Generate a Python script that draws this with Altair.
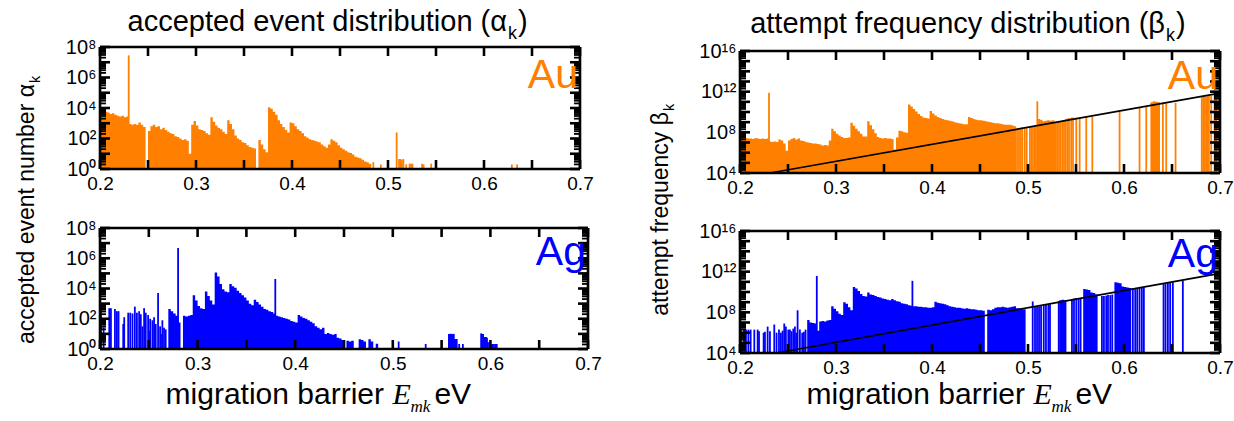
import altair as alt
import pandas as pd

# ---------------- data (log10 of the plotted values) ----------------
STEP = 0.0025  # histogram bin width (eV)

# accepted event number alpha_k, Au (bins of 0.0025 eV from AU_ALPHA_START)
AU_ALPHA_START = 0.2
AU_ALPHA_LOG = [
    3.9, 3.85, 3.75, 3.7, 3.6, 3.65, 3.55, 3.5, 3.45, 3.5, 3.4, 3.45,
    2.95, 2.9, 2.95, 2.9, 3.05, 2.9, 2.75, None, 2.5, 2.8, 2.9, 2.75,
    2.8, 2.6, 2.7, 2.55, 2.45, 2.35, 2.3, 2.15, 2.1, 2.0, 1.9, 1.95,
    1.85, 1.0, 2.9, 3.15, 2.85, 2.6, 2.55, 2.5, 2.35, 2.25, 3.4, 3.1,
    2.85, 2.7, 2.6, 2.45, 2.3, 3.2, 2.95, 2.6, 2.2, 2.0, 1.9, 1.75,
    1.7, 1.55, 1.45, 1.4, 1.35, None, 1.9, 1.6, 1.3, 1.1, 4.05, 3.95,
    3.75, 3.55, 3.2, 2.95, 2.75, 2.55, 2.4, 3.05, 3.0, 2.8, 2.6, 2.5,
    2.35, 2.15, 2.05, 1.95, 1.9, 1.85, 1.8, 1.75, 1.6, 1.5, 1.4, 1.6,
    1.95, 1.85, 1.75, 1.55, 1.4, 1.3, 1.2, 1.1, 1.05, 0.95, 0.8, 0.75,
    0.7, 0.6, 0.5, 0.45, 0.35,
]
AU_ALPHA_LINE_E = [0.2299, 0.4847, 0.4925, 0.509, 0.5115, 0.513, 0.5145, 0.516,
                   0.519, 0.5225, 0.524, 0.5255, 0.5355, 0.537, 0.545, 0.629, 0.6345]
AU_ALPHA_LINE_LOG = [7.45, 0.45, 0.3, 2.4, 0.65, 0.65, 0.6, 0.65,
                     0.3, 0.35, 0.35, 0.35, 0.35, 0.3, 0.35, 0.3, 0.3]

# accepted event number alpha_k, Ag
AG_ALPHA_START = 0.27
AG_ALPHA_LOG = [
    2.65, 2.5, 2.35, 2.2, 1.75, None, 2.2, 2.15, 2.2, 2.25, 3.55, 3.2,
    2.85, 2.7, 2.65, 3.8, 3.5, 3.2, 2.95, 5.05, 4.8, 4.3, 3.95, 3.8,
    3.75, 4.3, 4.15, 4.05, 3.85, 3.7, 3.55, 3.4, 3.2, 3.0, 2.9, 3.25,
    3.1, 2.95, 2.8, 2.65, 2.6, 2.5, 2.45, 2.35, 2.2, 2.15, 2.1, 2.05,
    2.0, 1.95, 1.85, 1.8, 1.75, 2.25, 2.15, 2.05, 2.0, 1.9, 1.8, 1.7,
    1.5, 1.4, 1.3, 1.4, 1.0, 1.05, 1.0, 0.95, 1.0, 0.75, 0.7, 0.6,
    None, 0.55, 0.5, 0.55, None, None, 0.65, 0.6, 0.5, None, 0.65, 0.5,
    None, 0.35,
]
AG_ALPHA_LINE_E = [0.201, 0.2037, 0.2095, 0.2112, 0.2153, 0.2173, 0.219, 0.2238, 0.2248,
                   0.2289, 0.231, 0.2333, 0.2357, 0.2378, 0.2401, 0.2418, 0.2435, 0.2452,
                   0.2469, 0.2493, 0.2503, 0.2514, 0.2537, 0.2554, 0.256, 0.2571, 0.2595,
                   0.2616, 0.2625, 0.2639, 0.2656, 0.2673, 0.28, 0.3796, 0.506, 0.5337,
                   0.5575, 0.5585, 0.5595, 0.5605, 0.5615, 0.5625, 0.5635, 0.5645, 0.5655,
                   0.568, 0.5718, 0.5905, 0.5915, 0.5925, 0.5935, 0.5945, 0.5955, 0.5965,
                   0.5975, 0.599, 0.6005, 0.602, 0.6035, 0.605, 0.6065]
AG_ALPHA_LINE_LOG = [2.97, 1.43, 2.7, 2.7, 2.64, 2.5, 2.5, 1.65, 2.1,
                     2.4, 2.4, 2.35, 2.8, 2.4, 2.5, 2.3, 1.5, 2.7,
                     2.4, 2.25, 1.2, 2.0, 1.9, 2.1, 1.6, 1.65, 3.7,
                     1.5, 1.0, 1.9, 1.4, 1.3, 6.67, 4.63, 0.5, 0.33,
                     1.0, 1.0, 1.0, 1.0, 0.95, 1.0, 0.66, 0.66, 0.66,
                     0.33, 0.33, 1.03, 1.0, 1.0, 0.8, 0.8, 0.8, 0.75,
                     0.44, 0.44, 0.33, 0.33, 0.33, 0.33, 0.33]

# attempt frequency beta_k, Au
AU_BETA_START = 0.2
AU_BETA_LOG = [
    7.6, 7.55, 7.45, 7.4, 7.4, 7.35, 7.45, 7.4, 7.35, 7.4, 7.35, 7.4,
    7.1, 7.05, 7.1, 7.05, 7.3, 7.2, 6.9, 6.2, 7.2, 7.35, 7.45, 7.3,
    7.4, 7.2, 7.15, 7.05, 7.0, 6.95, 6.9, 6.9, 6.85, 6.8, 6.7, 6.75,
    6.7, 7.2, 8.35, 8.1, 7.85, 7.7, 7.55, 7.45, 7.45, 7.5, 8.95, 8.65,
    8.35, 8.1, 7.85, 7.6, 7.6, 9.1, 8.7, 8.3, 7.9, 7.55, 7.45, 7.4,
    7.45, 7.4, 7.4, 7.35, 6.3, 7.5, 8.15, 8.1, 8.0, 7.95, 10.75, 10.55,
    10.3, 10.05, 9.8, 9.6, 9.45, 9.4, 9.35, 10.1, 9.85, 9.65, 9.5, 9.4,
    9.3, 9.25, 9.2, 9.15, 9.1, 9.0, 8.95, 8.9, 8.85, 8.8, 8.8, 9.5,
    9.4, 9.3, 9.25, 9.2, 9.2, 9.15, 9.1, 9.05, 9.0, 8.95, 8.9, 8.9,
    8.85, 8.8, 8.75, 8.75, 8.75, 8.7, 8.6,
]
AU_BETA_BIN_E = [0.51, 0.5125, 0.515, 0.5175, 0.52, 0.5225, 0.525, 0.5275,
                 0.6275, 0.63, 0.6325, 0.635]
AU_BETA_BIN_LOG = [9.3, 9.25, 9.1, 9.15, 9.2, 9.15, 9.2, 9.0,
                   10.95, 11.05, 11.0, 10.95]
AU_BETA_LINE_E = [0.2302, 0.4868, 0.4886, 0.4906, 0.4924, 0.4941, 0.4966, 0.4986, 0.502,
                  0.5035, 0.5052, 0.507, 0.5083, 0.5097, 0.5305, 0.5323, 0.534, 0.5358,
                  0.5375, 0.5392, 0.541, 0.5427, 0.545, 0.5469, 0.5503, 0.5538, 0.5607,
                  0.567, 0.5954, 0.6162, 0.6232, 0.6405, 0.644, 0.6537, 0.681, 0.6825,
                  0.684, 0.6855, 0.687, 0.6885, 0.6908, 0.6943, 0.696]
AU_BETA_LINE_LOG = [11.9, 8.5, 8.4, 8.4, 8.45, 8.5, 8.4, 8.5, 8.55,
                    8.6, 8.6, 8.6, 8.6, 11.05, 9.0, 9.05, 9.1, 9.15,
                    9.2, 9.3, 9.35, 9.4, 9.45, 9.45, 9.45, 9.5, 9.5,
                    9.55, 10.05, 10.4, 10.5, 10.85, 10.85, 10.9, 11.5, 11.55,
                    11.55, 11.5, 11.6, 11.6, 11.6, 11.65, 11.7]
AU_FIT_E = [0.2312, 0.7]
AU_FIT_LOG = [4.0, 11.85]

# attempt frequency beta_k, Ag
AG_BETA_START = 0.27
AG_BETA_LOG = [
    7.25, 7.0, 6.95, 6.9, 6.2, 7.1, 7.15, 7.1, 7.2, 7.25, 8.6, 8.35,
    8.1, 7.85, 7.75, 9.0, 8.85, 8.5, 8.2, 10.5, 10.35, 10.1, 9.8, 9.6,
    9.55, 9.95, 9.75, 9.7, 9.6, 9.5, 9.45, 9.35, 9.3, 9.25, 9.2, 9.3,
    9.2, 9.1, 9.05, 8.9, 8.85, 8.8, 8.7, 8.65, 8.6, 8.6, 8.55, 8.55,
    8.5, 8.5, 8.45, 8.45, 8.5, 9.05, 8.95, 8.9, 8.85, 8.8, 8.7, 8.6,
    8.55, 8.5, 8.45, 8.45, 8.4, 8.35, 8.4, 8.35, 8.3, 8.3, 8.25, 8.2,
    8.2, 8.15, None, 8.25, 8.2, 8.3, 8.45, 8.5, 8.5, 8.55, 8.5, 8.45,
    8.5, 8.55, 8.6, 8.4, 8.4, 8.3, 8.3,
]
AG_BETA_BIN_E = [0.5325, 0.535, 0.5375, 0.5575, 0.56, 0.5625, 0.565, 0.5675, 0.57,
                 0.59, 0.5925, 0.595, 0.5975, 0.6, 0.6025, 0.605]
AG_BETA_BIN_LOG = [9.2, 9.25, 9.2, 10.3, 10.25, 10.2, 9.95, 9.9, 9.75,
                   10.95, 10.9, 10.85, 10.55, 10.5, 10.45, 10.4]
AG_BETA_LINE_E = [0.2009, 0.2024, 0.2042, 0.2062, 0.2087, 0.2111, 0.2149, 0.2184, 0.2198,
                  0.2246, 0.226, 0.2288, 0.2312, 0.2357, 0.2381, 0.2406, 0.2426, 0.2444,
                  0.2461, 0.2478, 0.2503, 0.252, 0.2537, 0.2555, 0.2572, 0.2586, 0.26,
                  0.2624, 0.2648, 0.2666, 0.2683, 0.28, 0.3796, 0.5049, 0.5073, 0.5094,
                  0.5115, 0.5136, 0.5164, 0.5187, 0.5212, 0.5229, 0.532, 0.5458, 0.5479,
                  0.5503, 0.5527, 0.5548, 0.577, 0.5791, 0.5815, 0.5833, 0.5857, 0.5878,
                  0.6092, 0.6117, 0.6138, 0.6162, 0.6186, 0.6207, 0.6412, 0.6433, 0.6457,
                  0.6481, 0.6509, 0.6613]
AG_BETA_LINE_LOG = [6.3, 5.0, 6.3, 6.3, 6.3, 6.3, 6.3, 6.3, 6.15,
                    6.0, 6.1, 6.6, 6.15, 6.8, 6.0, 6.3, 6.0, 6.2,
                    6.9, 6.6, 6.3, 6.3, 6.15, 6.4, 6.6, 6.0, 8.2,
                    6.3, 6.0, 6.1, 6.3, 11.58, 11.1, 9.07, 8.6, 8.6,
                    8.6, 8.65, 8.7, 8.75, 8.8, 8.8, 9.1, 9.3, 9.35,
                    9.4, 9.4, 9.35, 9.6, 9.6, 9.65, 9.7, 9.7, 9.75,
                    10.35, 10.35, 10.35, 10.4, 10.4, 10.45, 10.85, 10.85, 10.9,
                    10.9, 10.95, 11.1]
AG_FIT_E = [0.2382, 0.7]
AG_FIT_LOG = [4.0, 11.84]

# axis ticks
X_TICKS = [0.2, 0.25, 0.3, 0.35, 0.4, 0.45, 0.5, 0.55, 0.6, 0.65, 0.7]
ALPHA_DECADES = [0, 1, 2, 3, 4, 5, 6, 7, 8]
BETA_DECADES = [4, 5, 6, 7, 8, 9, 10, 11, 12, 13, 14, 15, 16]

# ---------------- styling / layout ----------------
W, H = 1234, 421
ORANGE = "#ff8000"
BLUE = "#0000ff"
SANS = "Liberation Sans, Arial, Helvetica, sans-serif"
SERIF = "Liberation Serif, Times New Roman, serif"
SUP = {"0": "\u2070", "1": "\u00b9", "2": "\u00b2", "3": "\u00b3", "4": "\u2074",
       "5": "\u2075", "6": "\u2076", "7": "\u2077", "8": "\u2078", "9": "\u2079"}


def sup(n):
    return "".join(SUP[c] for c in str(n))


def step_rows(start, logs, bin_e, bin_log, base):
    """histogram outline points for a step-after area: one point per bin left edge"""
    vals = {}
    for i, v in enumerate(logs):
        if v is not None:
            vals[round(start / STEP) + i] = v
    for e, v in zip(bin_e, bin_log):
        vals[round(e / STEP)] = v
    lo, hi = min(vals), max(vals)
    rows = []
    for k in range(lo, hi + 2):
        v = vals.get(k)
        rows.append({"x": round(k * STEP, 5), "v": 10 ** v if v is not None else base, "base": base})
    return pd.DataFrame(rows)


def line_rows(es, logs, base):
    return pd.DataFrame([{"e": e, "v": 10 ** v, "base": base} for e, v in zip(es, logs)])


def label_expr(labeled):
    expr = "''"
    for d in labeled:
        expr = f"(round(log(datum.value)/LN10)=={d}) ? '10{sup(d)}' : " + expr
    return expr


def panel(L, R, B, T, dmin_exp, dmax_exp, decades, labeled, color,
          start, logs, bin_e, bin_log, line_e, line_log, fit_e=None, fit_log=None,
          tag="", tag_dy=36):
    dmin, dmax = 10 ** dmin_exp, 10 ** dmax_exp
    xs = alt.Scale(domain=[0.2, 0.7], range=[L, R], nice=False, zero=False)
    ys = alt.Scale(type="log", domain=[dmin, dmax], range=[B, T], nice=False)
    common = dict(grid=False, domain=False, ticks=False, title=None, labelFont=SANS,
                  labelColor="black", labelFlush=False, labelOverlap=False, labelBound=False)
    majors = [10 ** d for d in decades]
    minors = [m * 10 ** d for d in decades[:-1] for m in range(2, 10)]

    ax_bottom = alt.Axis(orient="bottom", values=X_TICKS, offset=B - H, labelFontSize=19, labelPadding=5,
                         labelExpr="abs(datum.value*10 - round(datum.value*10)) < 0.01 ? format(datum.value, '.1f') : ''",
                         **common)
    ay_left = alt.Axis(orient="left", values=majors, offset=-L, labelFontSize=20, labelPadding=4,
                       labelExpr=label_expr(labeled), **common)

    area = step_rows(start, logs, bin_e, bin_log, dmin)
    lines = line_rows(line_e, line_log, dmin)
    frame = pd.DataFrame([{"x0": 0.2, "x1": 0.7, "y0": dmin, "y1": dmax}])
    xt = pd.DataFrame({"x": X_TICKS})
    yt_major = pd.DataFrame({"y": majors})
    yt_minor = pd.DataFrame({"y": minors})

    def X(f):
        return alt.X(f, scale=xs, axis=None)

    def Y(f):
        return alt.Y(f, scale=ys, axis=None)

    fw = 2.6
    layers = [
        alt.Chart(area).mark_area(color=color, interpolate="step-after", opacity=1).encode(
            x=alt.X("x:Q", scale=xs, axis=ax_bottom),
            y=alt.Y("v:Q", scale=ys, axis=ay_left), y2="base:Q"),
        alt.Chart(lines).mark_rule(color=color, strokeWidth=1.8).encode(
            x=X("e:Q"), y=Y("v:Q"), y2="base:Q"),
    ]
    if fit_e is not None:
        fit = pd.DataFrame({"e": fit_e, "v": [10 ** v for v in fit_log]})
        layers.append(alt.Chart(fit).mark_line(color="black", strokeWidth=1.7).encode(
            x=X("e:Q"), y=Y("v:Q")))
    layers += [
        # frame
        alt.Chart(frame).mark_rule(color="black", strokeWidth=fw).encode(x=X("x0:Q"), x2="x1:Q", y=Y("y0:Q")),
        alt.Chart(frame).mark_rule(color="black", strokeWidth=fw).encode(x=X("x0:Q"), x2="x1:Q", y=Y("y1:Q")),
        alt.Chart(frame).mark_rule(color="black", strokeWidth=fw).encode(x=X("x0:Q"), y=Y("y0:Q"), y2="y1:Q"),
        alt.Chart(frame).mark_rule(color="black", strokeWidth=fw).encode(x=X("x1:Q"), y=Y("y0:Q"), y2="y1:Q"),
        # inward ticks on all four sides
        alt.Chart(xt).mark_tick(color="black", orient="vertical", size=9, thickness=2.6, opacity=1).encode(
            x=X("x:Q"), y=alt.value(B - 4.5)),
        alt.Chart(xt).mark_tick(color="black", orient="vertical", size=9, thickness=2.6, opacity=1).encode(
            x=X("x:Q"), y=alt.value(T + 4.5)),
        alt.Chart(yt_major).mark_tick(color="black", orient="horizontal", size=10, thickness=2.6, opacity=1).encode(
            y=Y("y:Q"), x=alt.value(L + 5)),
        alt.Chart(yt_major).mark_tick(color="black", orient="horizontal", size=10, thickness=2.6, opacity=1).encode(
            y=Y("y:Q"), x=alt.value(R - 5)),
        alt.Chart(yt_minor).mark_tick(color="black", orient="horizontal", size=6, thickness=1.8, opacity=1).encode(
            y=Y("y:Q"), x=alt.value(L + 3)),
        alt.Chart(yt_minor).mark_tick(color="black", orient="horizontal", size=6, thickness=1.8, opacity=1).encode(
            y=Y("y:Q"), x=alt.value(R - 3)),
        alt.Chart(pd.DataFrame({"t": [tag]})).mark_text(
            color=color, font=SANS, fontSize=41, align="right", baseline="alphabetic").encode(
            text="t:N", x=alt.value(R - 2), y=alt.value(T + tag_dy)),
    ]
    return layers


def text(t, x, y, size, font=SANS, align="left", angle=0, dx=0, dy=0, style="normal", baseline="alphabetic"):
    return alt.Chart(pd.DataFrame({"t": [t]})).mark_text(
        font=font, fontSize=size, align=align, angle=angle, dx=dx, dy=dy, fontStyle=style,
        baseline=baseline, color="black").encode(text="t:N", x=alt.value(x), y=alt.value(y))


def sub_title(main, sub, close, x, y, size, angle=0):
    """main text ending at (x, y), then a subscript and closing text"""
    parts = [text(main, x, y, size, align="right", angle=angle),
             text(sub, x, y, size * 0.62, align="left", angle=angle, dx=1, dy=size * 0.27)]
    if close:
        parts.append(text(close, x, y, size, align="left", angle=angle, dx=1 + size * 0.62 * 0.5 + 1))
    return parts


def x_title(x, y, size=30):
    sub = size * 0.57
    return [text("migration barrier", x, y, size, align="right"),
            text("E", x, y, size, font=SERIF, style="italic", dx=size * 0.28),
            text("mk", x, y, sub, font=SERIF, style="italic", dx=size * 0.28 + size * 0.6, dy=size * 0.27),
            text("eV", x, y, size, dx=size * 0.28 + size * 0.6 + sub * 1.17 + 4)]


layers = []
layers += panel(100, 580, 169, 47, 0, 8, ALPHA_DECADES, [0, 2, 4, 6, 8], ORANGE,
                AU_ALPHA_START, AU_ALPHA_LOG, [], [], AU_ALPHA_LINE_E, AU_ALPHA_LINE_LOG,
                tag="Au", tag_dy=41)
layers += panel(100, 588, 349, 228, 0, 8, ALPHA_DECADES, [0, 2, 4, 6, 8], BLUE,
                AG_ALPHA_START, AG_ALPHA_LOG, [], [], AG_ALPHA_LINE_E, AG_ALPHA_LINE_LOG,
                tag="Ag", tag_dy=37)
layers += panel(740, 1220, 173, 51, 4, 16, BETA_DECADES, [4, 8, 12, 16], ORANGE,
                AU_BETA_START, AU_BETA_LOG, AU_BETA_BIN_E, AU_BETA_BIN_LOG,
                AU_BETA_LINE_E, AU_BETA_LINE_LOG, AU_FIT_E, AU_FIT_LOG, tag="Au", tag_dy=38)
layers += panel(740, 1220, 353, 231, 4, 16, BETA_DECADES, [4, 8, 12, 16], BLUE,
                AG_BETA_START, AG_BETA_LOG, AG_BETA_BIN_E, AG_BETA_BIN_LOG,
                AG_BETA_LINE_E, AG_BETA_LINE_LOG, AG_FIT_E, AG_FIT_LOG, tag="Ag", tag_dy=36)

# titles
layers += sub_title("accepted event distribution (\u03b1", "k", ")", 507, 31, 29)
layers += sub_title("attempt frequency distribution (\u03b2", "k", ")", 1165, 33, 29)
layers += sub_title("accepted event number \u03b1", "k", None, 34, 84, 23, angle=270)
layers += sub_title("attempt frequency \u03b2", "k", None, 668, 112, 23, angle=270)
layers += x_title(384, 404)
layers += x_title(1025, 404)

chart = alt.layer(*layers).resolve_scale(x="independent", y="independent").properties(
    width=W, height=H, padding=0, autosize=alt.AutoSizeParams(type="none"),
    background="white",
).configure_view(stroke=None)

chart.save("out.html", embed_options={"renderer": "svg", "actions": False})
